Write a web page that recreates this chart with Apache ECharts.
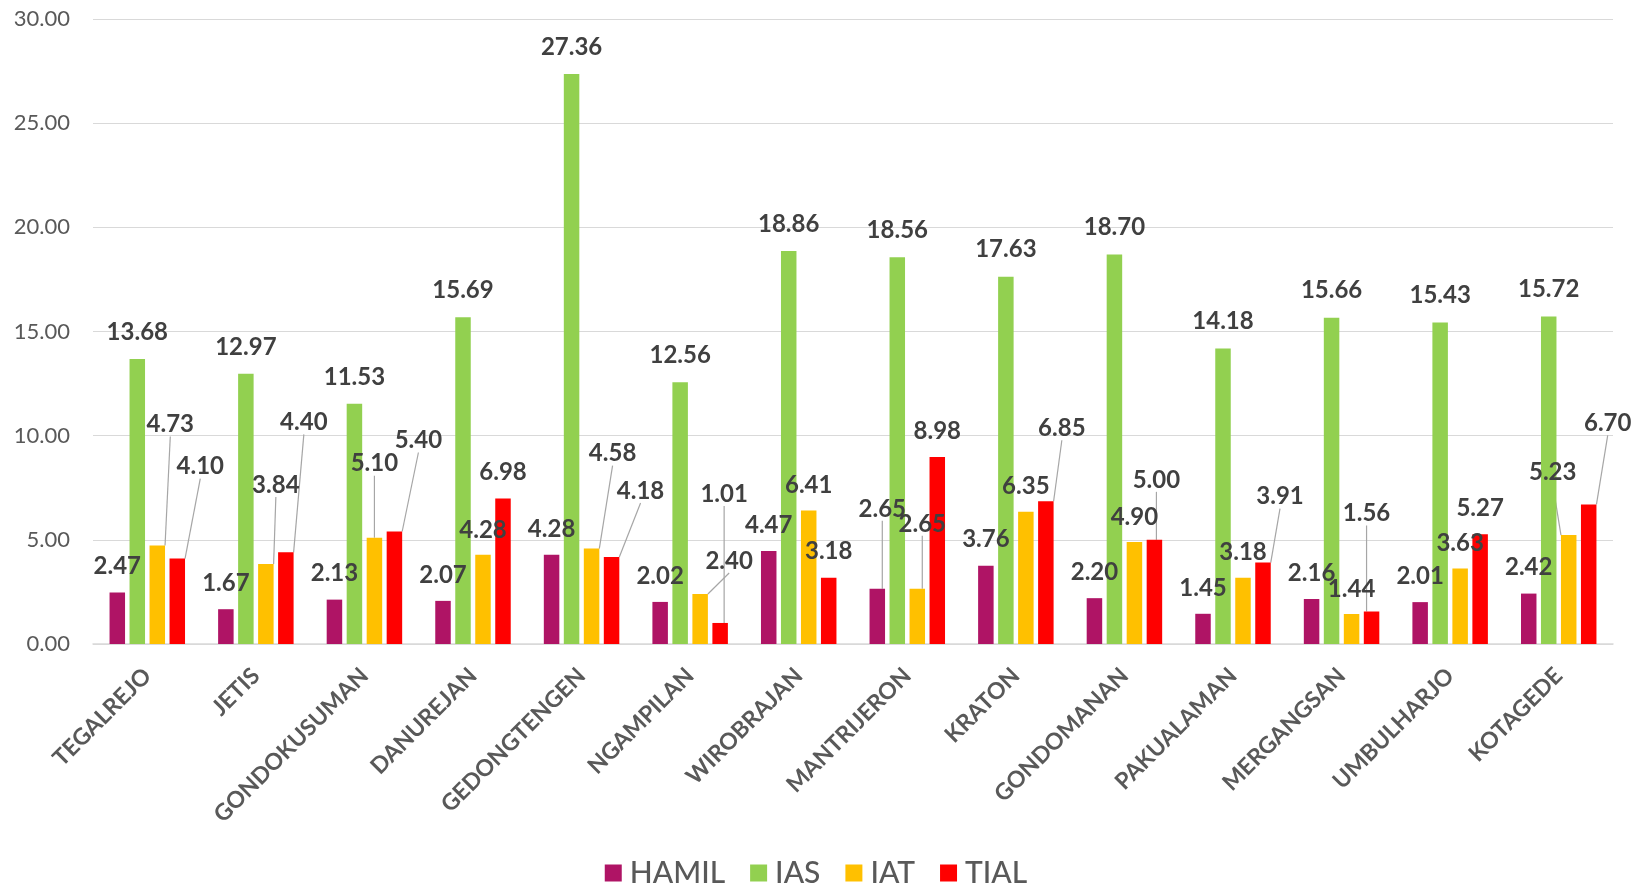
<!DOCTYPE html>
<html>
<head>
<meta charset="utf-8">
<script src="https://cdn.jsdelivr.net/npm/echarts@6/dist/echarts.min.js"></script>
<style>
  html, body { margin: 0; padding: 0; background: #ffffff; }
  #chart { width: 1632px; height: 890px; }
</style>
</head>
<body>
<div id="chart"></div>
<script>
// ---- data ----
const categories = ['TEGALREJO', 'JETIS', 'GONDOKUSUMAN', 'DANUREJAN', 'GEDONGTENGEN', 'NGAMPILAN', 'WIROBRAJAN',
  'MANTRIJERON', 'KRATON', 'GONDOMANAN', 'PAKUALAMAN', 'MERGANGSAN', 'UMBULHARJO', 'KOTAGEDE'];
const seriesNames = ['HAMIL', 'IAS', 'IAT', 'TIAL'];
const hamil = [2.47, 1.67, 2.13, 2.07, 4.28, 2.02, 4.47, 2.65, 3.76, 2.20, 1.45, 2.16, 2.01, 2.42];
const ias   = [13.68, 12.97, 11.53, 15.69, 27.36, 12.56, 18.86, 18.56, 17.63, 18.70, 14.18, 15.66, 15.43, 15.72];
const iat   = [4.73, 3.84, 5.10, 4.28, 4.58, 2.40, 6.41, 2.65, 6.35, 4.90, 3.18, 1.44, 3.63, 5.23];
const tial  = [4.10, 4.40, 5.40, 6.98, 4.18, 1.01, 3.18, 8.98, 6.85, 5.00, 3.91, 1.56, 5.27, 6.70];
const yTicks = { min: 0, max: 30, interval: 5 };

// ---- styling / label placement (pixels relative to bar top-centre) ----
const colors = ['#AF1465', '#92D050', '#FFC000', '#FF0000'];
const DEF = [[0, -26], [0, -27], [0, -25], [0, -26]];
const SPECIAL = {
  0: { 7: [5, -80] },
  1: {},
  2: { 0: [13, -121], 1: [10, -79], 2: [0, -74], 4: [21, -95], 5: [29, -33], 7: [5, -65], 13: [-16, -63] },
  3: { 0: [23, -92], 1: [18, -130], 2: [24, -91], 4: [29, -66], 5: [4, -129], 8: [16, -73], 9: [2, -60],
       10: [17, -66], 11: [-5, -98], 13: [19, -81] }
};
function labelPos(s, i) { return SPECIAL[s][i] || DEF[s]; }

const values = [hamil, ias, iat, tial];
const FONT = 'Lato, "Open Sans", sans-serif';

const series = values.map((vals, s) => ({
  name: seriesNames[s],
  type: 'bar',
  barWidth: 15.5,
  barGap: '29%',
  itemStyle: { color: colors[s] },
  data: vals.map((v, i) => ({ value: v, labelLine: { show: !!SPECIAL[s][i] } })),
  label: {
    show: true,
    position: 'top',
    formatter: p => p.value.toFixed(2),
    color: '#404040',
    fontFamily: FONT,
    fontWeight: 'bold',
    fontSize: 24
  },
  labelLine: { show: false, lineStyle: { color: '#A6A6A6', width: 1.2 } },
  labelLayout: function (params) {
    const s = params.seriesIndex, i = params.dataIndex;
    const p = labelPos(s, i);
    const bx = params.rect.x + params.rect.width / 2;
    const by = params.rect.y;
    const lx = bx + p[0], ly = by + p[1];
    const out = { x: lx, y: ly, align: 'center', verticalAlign: 'middle' };
    if (SPECIAL[s][i]) {
      const endY = ly + 16;
      out.labelLinePoints = [[bx, by], [lx, endY], [lx, endY]];
    }
    return out;
  }
}));

const chart = echarts.init(document.getElementById('chart'), null, { renderer: 'canvas' });
chart.setOption({
  animation: false,
  backgroundColor: '#ffffff',
  grid: { left: 93, right: 19, top: 19, bottom: 246, containLabel: false },
  legend: {
    data: seriesNames,
    left: 'center',
    top: 853,
    itemWidth: 17,
    itemHeight: 17,
    itemGap: 25,
    icon: 'rect',
    textStyle: { color: '#595959', fontFamily: FONT, fontSize: 30, fontWeight: 500, padding: [0, 0, 0, 3] }
  },
  xAxis: {
    type: 'category',
    data: categories,
    axisLine: { lineStyle: { color: '#D9D9D9', width: 1.5 } },
    axisTick: { show: false },
    axisLabel: {
      rotate: 45,
      interval: 0,
      margin: 28,
      color: '#595959',
      fontFamily: FONT,
      fontWeight: 'bold',
      fontSize: 23
    }
  },
  yAxis: {
    type: 'value',
    min: yTicks.min,
    max: yTicks.max,
    interval: yTicks.interval,
    axisLine: { show: false },
    axisTick: { show: false },
    splitLine: { lineStyle: { color: '#D9D9D9', width: 1.2 } },
    axisLabel: {
      formatter: v => v.toFixed(2),
      color: '#595959',
      fontFamily: FONT,
      fontSize: 22,
      margin: 23
    }
  },
  series: series
});
</script>
</body>
</html>
